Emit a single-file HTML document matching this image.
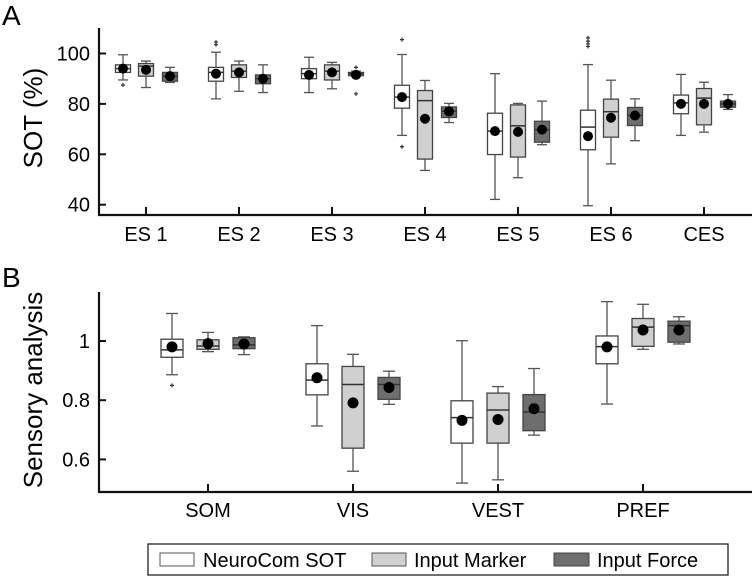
<!DOCTYPE html>
<html><head><meta charset="utf-8"><style>
html,body{margin:0;padding:0;background:#fff;}
svg{display:block;font-family:"Liberation Sans",Arial,sans-serif;}
</style></head><body>
<svg id="chart" width="754" height="580" viewBox="0 0 754 580">
<text x="2" y="25" font-size="28">A</text>
<text x="2" y="287" font-size="28">B</text>
<text transform="translate(42,118) rotate(-90)" text-anchor="middle" font-size="26">SOT (%)</text>
<text transform="translate(42,390) rotate(-90)" text-anchor="middle" font-size="26">Sensory analysis</text>
<g id="pa"></g>
<g id="pb"></g>
<g>
<rect x="148" y="544" width="580" height="31" fill="#fff" stroke="#222" stroke-width="1.3"/>
<g><rect x="160" y="553" width="34" height="13" fill="#fff" stroke="#555"/><text x="203" y="567" font-size="20">NeuroCom SOT</text></g>
<g><rect x="372" y="553" width="34" height="13" fill="#d0d0d0" stroke="#555"/><text x="414" y="567" font-size="20">Input Marker</text></g>
<g><rect x="554" y="553" width="35" height="13" fill="#6e6e6e" stroke="#444"/><text x="597" y="567" font-size="20">Input Force</text></g>
</g>
</svg>
<script>
// Panel A data: [whiskerLow, q1, median, q3, whiskerHigh, mean]
const catsA = ["ES 1","ES 2","ES 3","ES 4","ES 5","ES 6","CES"];
const ticksA = [40,60,80,100];
const neuroA = [[89.5,92.5,94,95.5,99.5,94],[82,89,92.5,94.5,100.5,92],[84.5,90,92,94,98.5,91.5],[67.5,78.3,82.7,87.4,99.6,82.7],[42.1,59.9,69.2,76.3,92,69.2],[39.6,61.8,70.8,77.5,95.6,67.2],[67.5,76.1,80.4,83.5,91.7,80]];
const markerA = [[86.5,91,95,96,97,93.5],[85,90.5,93,95.5,97,92.5],[86,89.5,93,95.5,96.5,92.5],[53.6,58.1,81.3,85.3,89.3,74.1],[50.7,58.9,71.3,79.6,80.2,68.9],[56.2,66.8,76.9,81.9,89.4,74.5],[68.8,71.7,82.3,86.1,88.6,80]];
const forceA = [[88.5,89,91,92.5,94.5,91],[84.5,88,90,91.5,95.5,90],[91,91.2,92,92.5,93,91.5],[72.6,74.6,77.1,78.8,80.2,77],[63.8,64.8,69.8,73.1,81.1,69.8],[65.4,71.4,75.4,78.6,82,75.4],[77.8,78.7,80,81.1,83.7,80]];
const outNeuroA = [[87.5],[104.5,103.5],[],[105.5,63],[],[106.2,104.9,103.8,102.8],[]];
const outMarkerA = [[],[],[],[],[],[],[]];
const outForceA = [[],[],[94.5,84],[],[],[],[]];
// Panel B data
const catsB = ["SOM","VIS","VEST","PREF"];
const ticksB = [0.6,0.8,1];
const tickLabelsB = ["0.6","0.8","1"];
const neuroB = [[0.886,0.945,0.97,1.006,1.093,0.98],[0.713,0.818,0.868,0.923,1.052,0.876],[0.52,0.655,0.741,0.798,1.001,0.732],[0.787,0.923,0.981,1.017,1.133,0.98]];
const markerB = [[0.964,0.972,0.983,1.004,1.029,0.991],[0.56,0.638,0.853,0.914,0.955,0.791],[0.531,0.655,0.767,0.824,0.846,0.735],[0.972,0.982,1.047,1.076,1.124,1.037]];
const forceB = [[0.954,0.974,0.987,1.011,1.014,0.99],[0.786,0.803,0.853,0.877,0.898,0.843],[0.682,0.697,0.76,0.819,0.907,0.771],[0.99,0.996,1.052,1.067,1.082,1.037]];
const outNeuroB = [[0.85],[],[],[]];
const outMarkerB = [[],[],[],[]];
const outForceB = [[],[],[],[]];

const NS="http://www.w3.org/2000/svg";
function mk(parent,tag,attrs){const e=document.createElementNS(NS,tag);for(const k in attrs)e.setAttribute(k,attrs[k]);parent.appendChild(e);return e;}

function drawPanel(g,o){
  const y=v=>o.y0+(o.v0-v)*o.k;
  const x=i=>o.x0+i*o.dx;
  const ax=mk(g,'path',{d:`M${o.axX},${o.axTop}V${o.axBot}H${o.axRight}`,fill:'none',stroke:'#111','stroke-width':2.2});
  
  
  o.ticks.forEach((t,i)=>{
    const l=mk(g,'line',{x1:o.axX,x2:o.axX+7,y1:y(t),y2:y(t),stroke:'#111','stroke-width':2});
    
    
    const tx=mk(g,'text',{x:90,y:y(t)+7,'text-anchor':'end','font-size':20});
    tx.textContent=o.tickLabels?o.tickLabels[i]:t;
    
    
  });
  o.cats.forEach((c,i)=>{
    const l=mk(g,'line',{x1:x(i),x2:x(i),y1:o.axBot,y2:o.axBot-8,stroke:'#111','stroke-width':2});
    
    
    const tx=mk(g,'text',{x:x(i),y:o.labY,'text-anchor':'middle','font-size':20});
    tx.textContent=c;
    
    
  });
  const series=[[o.s[0],o.out[0],'#ffffff','neurocom'],[o.s[1],o.out[1],'#d0d0d0','input-marker'],[o.s[2],o.out[2],'#6e6e6e','input-force']];
  series.forEach(([data,outs,fill,nm],si)=>{
    data.forEach((d,i)=>{
      const cx=x(i)+o.off[si], hw=o.bw/2;
      const bg=mk(g,'g',{});
      
      
      const st={stroke:'#555','stroke-width':1.3,fill:'none'};
      mk(bg,'line',Object.assign({x1:cx,x2:cx,y1:y(d[0]),y2:y(d[1])},st));
      mk(bg,'line',Object.assign({x1:cx,x2:cx,y1:y(d[3]),y2:y(d[4])},st));
      mk(bg,'line',Object.assign({x1:cx-o.cap,x2:cx+o.cap,y1:y(d[0]),y2:y(d[0])},st));
      mk(bg,'line',Object.assign({x1:cx-o.cap,x2:cx+o.cap,y1:y(d[4]),y2:y(d[4])},st));
      mk(bg,'rect',{x:cx-hw,y:y(d[3]),width:o.bw,height:Math.max(1,y(d[1])-y(d[3])),fill:fill,stroke:'#444','stroke-width':1.3});
      mk(bg,'line',{x1:cx-hw,x2:cx+hw,y1:y(d[2]),y2:y(d[2]),stroke:'#333','stroke-width':1.5});
      mk(bg,'circle',{cx:cx,cy:y(d[5]),r:o.r,fill:'#000'});
      outs[i].forEach(v=>{
        const p=mk(bg,'path',{d:`M${cx-2},${y(v)}h4M${cx},${y(v)-2}v4`,stroke:'#333','stroke-width':1.2});
        
        
      });
    });
  });
}
drawPanel(document.getElementById('pa'),{y0:53.5,v0:100,k:2.52,x0:146,dx:93,axX:99,axTop:28,axBot:215,axRight:752,labY:241,
  ticks:ticksA,cats:catsA,s:[neuroA,markerA,forceA],out:[outNeuroA,outMarkerA,outForceA],off:[-23,0,24],bw:15,cap:5,r:5});
drawPanel(document.getElementById('pb'),{y0:341,v0:1,k:296,x0:208,dx:145,axX:99,axTop:292,axBot:492,axRight:752,labY:517,
  ticks:ticksB,tickLabels:tickLabelsB,cats:catsB,s:[neuroB,markerB,forceB],out:[outNeuroB,outMarkerB,outForceB],off:[-36,0,36],bw:22,cap:6,r:5.5});
</script>
</body></html>
